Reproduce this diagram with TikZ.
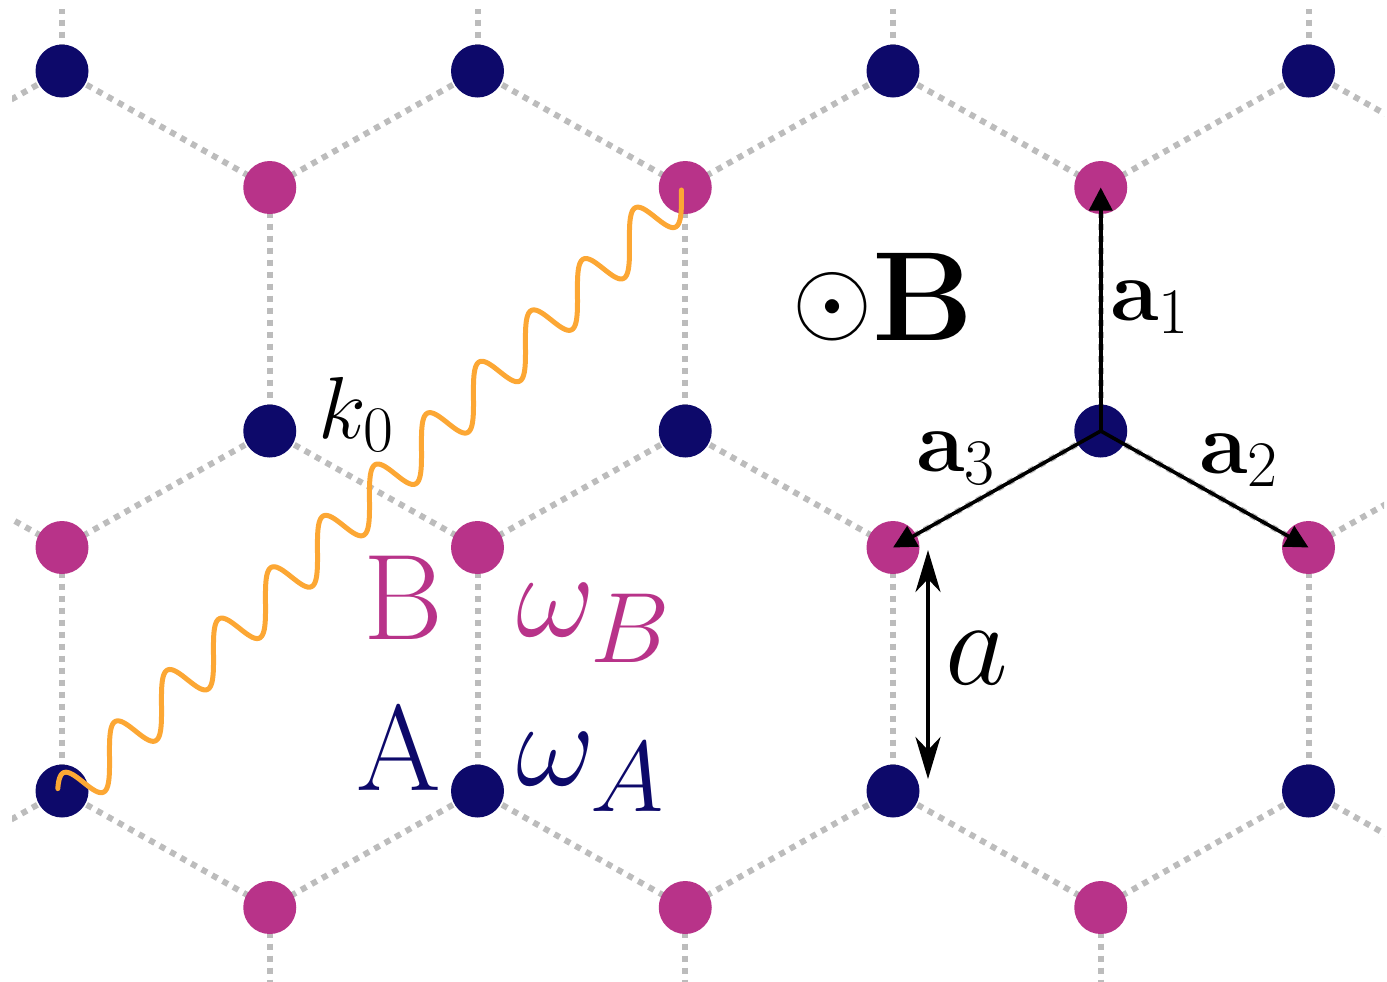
\RequirePackage{fix-cm}
\documentclass[tikz,border=0pt]{standalone}
\usepackage{bm}
\usetikzlibrary{arrows.meta}
\DeclareMathSizes{61}{61}{50}{42}
\DeclareMathSizes{44}{44}{32.5}{24}
\definecolor{siteA}{RGB}{13,9,106}
\definecolor{siteB}{RGB}{184,51,137}
\definecolor{bondgray}{RGB}{188,188,188}
\definecolor{wavecol}{RGB}{252,167,52}
\newcommand\figbig{\fontsize{61}{70}\selectfont}
\newcommand\figsmall{\fontsize{44}{52}\selectfont}
\tikzset{
  bond/.style={draw=bondgray, line width=3pt, dash pattern=on 3pt off 3pt},
  asite/.style={circle, fill=siteA, minimum size=26.5pt, inner sep=0pt},
  bsite/.style={circle, fill=siteB, minimum size=26.5pt, inner sep=0pt},
  vec/.style={line width=1.8pt, -{Triangle[length=11.5pt,width=11.5pt]}},
  dist/.style={line width=1.8pt, {Stealth[length=21pt,width=12.5pt,inset=6.5pt]}-{Stealth[length=21pt,width=12.5pt,inset=6.5pt]}},
  lbl/.style={inner sep=0pt, anchor=base west},
  photon/.style={draw=wavecol, line width=2.5pt, line cap=round, line join=round},
}
\begin{document}
\begin{tikzpicture}[x=0.5pt, y=-0.5pt]
\useasboundingbox (0,0) rectangle (1387,981);
% lattice sites (coordinates)
\foreach \r in {-1,...,3}{
  \foreach \i in {-2,...,8}{
    \pgfmathtruncatemacro\s{\r+\i}
    \ifodd\s
      \coordinate (B\r x\i) at ({62+207.75*\i},{187.5+360*\r});
    \else
      \coordinate (A\r x\i) at ({62+207.75*\i},{71+360*\r});
    \fi
  }
}
% bonds
\begin{scope}
  \clip (12,9) rectangle (1384,981);
  \foreach \r in {-1,...,2}{
    \foreach \i in {-1,...,7}{
      \pgfmathtruncatemacro\s{\r+\i}
      \pgfmathtruncatemacro\il{\i-1}
      \pgfmathtruncatemacro\ir{\i+1}
      \pgfmathtruncatemacro\rd{\r+1}
      \ifodd\s
        \draw[bond] (B\r x\i) -- (A\r x\il);
        \draw[bond] (B\r x\i) -- (A\r x\ir);
        \draw[bond] (B\r x\i) -- (A\rd x\i);
      \fi
    }
  }
\end{scope}
% site circles
\foreach \r in {0,1,2}{
  \foreach \i in {0,...,6}{
    \pgfmathtruncatemacro\s{\r+\i}
    \ifodd\s
      \node[bsite] (nB\r x\i) at (B\r x\i) {};
    \else
      \node[asite] (nA\r x\i) at (A\r x\i) {};
    \fi
  }
}
% photon
\draw[photon] plot[domain=-83.24:786.4, samples=700, variable=\t]
  ({122.5+0.7114*\t-8.5*cos(4.92543*\t)},{743.9-0.7028*\t-21.5*cos(4.92543*\t)});
% lattice vectors
\draw[vec] (A1x5) -- (B0x5);
\draw[vec] (A1x5) -- (B1x6);
\draw[vec] (A1x5) -- (B1x4);
% bond length
\coordinate (dtop) at (928,550);
\coordinate (dbot) at (928,779);
\draw[dist] (dtop) -- (dbot);
% labels
\node[lbl] (k0) at (318,438) {\figsmall $k_0$};
\node[lbl, text=siteB] (labB) at (363,639) {\figbig B};
\node[lbl, text=siteB] (omB) at (516,636) {\figbig $\omega_B$};
\node[lbl, text=siteA] (labA) at (356,790) {\figbig A};
\node[lbl, text=siteA] (omA) at (516,785) {\figbig $\omega_A$};
\node[lbl] (field) at (792,340) {\raisebox{4pt}{\fontsize{51.5}{60}\selectfont$\odot$}{\fontsize{63.5}{72}\selectfont\bfseries B}};
\node[lbl] (a1) at (1110,320) {\figsmall $\mathbf{a}_1$};
\node[lbl] (a2) at (1199,473.5) {\figsmall $\mathbf{a}_2$};
\node[lbl] (a3) at (916,471) {\figsmall $\mathbf{a}_3$};
\node[lbl] (alab) at (945,684) {\figbig $a$};
\end{tikzpicture}
\end{document}
